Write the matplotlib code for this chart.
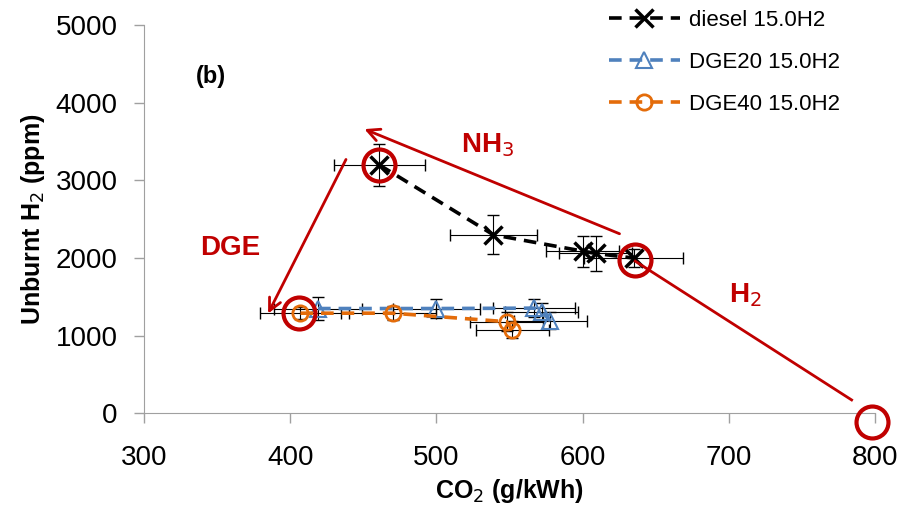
import matplotlib.pyplot as plt

plt.rcParams['font.family'] = ['Liberation Sans', 'DejaVu Sans']

# diesel 15.0H2
diesel_co2 = [461, 539, 600, 609, 635]
diesel_h2 = [3200, 2300, 2090, 2060, 2000]
diesel_xerr = [31, 30, 25, 25, 34]
diesel_yerr = [270, 250, 200, 230, 120]

# DGE20 15.0H2
dge20_co2 = [419, 500, 567, 572, 578]
dge20_h2 = [1350, 1350, 1355, 1310, 1190]
dge20_xerr = [30, 30, 28, 25, 25]
dge20_yerr = [150, 120, 120, 110, 110]

# DGE40 15.0H2
dge40_co2 = [407, 470, 548, 552]
dge40_h2 = [1290, 1290, 1180, 1075]
dge40_xerr = [28, 30, 25, 25]
dge40_yerr = [80, 90, 120, 110]

red = '#C00000'

# highlighted points (red circles)
circle_co2 = [461, 406, 636, 798]
circle_h2 = [3200, 1290, 1980, -110]

fig = plt.figure(figsize=(9.03, 5.24), dpi=100)
ax = fig.add_axes([0.1595, 0.2113, 0.8095, 0.7404])

ax.errorbar(diesel_co2, diesel_h2, xerr=diesel_xerr, yerr=diesel_yerr, fmt='none',
            ecolor='black', elinewidth=0.8, capsize=4, zorder=2)
ax.errorbar(dge20_co2, dge20_h2, xerr=dge20_xerr, yerr=dge20_yerr, fmt='none',
            ecolor='black', elinewidth=0.8, capsize=4, zorder=2)
ax.errorbar(dge40_co2, dge40_h2, xerr=dge40_xerr, yerr=dge40_yerr, fmt='none',
            ecolor='black', elinewidth=0.8, capsize=4, zorder=2)

dash = (0, (3.5, 2.2))
ax.plot(diesel_co2, diesel_h2, color='black', ls=dash, lw=2.6,
        marker='x', ms=13, mew=2.5, label='diesel 15.0H2', zorder=3)
ax.plot(dge20_co2, dge20_h2, color='#4F81BD', ls=dash, lw=2.6,
        marker='^', ms=11, mew=1.5, mfc='none', label='DGE20 15.0H2', zorder=3)
ax.plot(dge40_co2, dge40_h2, color='#E46C0A', ls=dash, lw=2.6,
        marker='o', ms=11, mew=2, mfc='none', label='DGE40 15.0H2', zorder=3)

# red annotation circles and arrows
ax.plot(circle_co2, circle_h2, ls='none', marker='o', ms=23, mfc='none',
        mec=red, mew=3, zorder=5, clip_on=False)
ax.annotate('', xy=(449, 3676), xytext=(627, 2300),
            arrowprops=dict(arrowstyle='->', color=red, lw=2, mutation_scale=22), zorder=6)
ax.annotate('', xy=(384, 1254), xytext=(439, 3303),
            arrowprops=dict(arrowstyle='->', color=red, lw=2, mutation_scale=22), zorder=6)
ax.plot([636, 784], [1960, 172], color=red, lw=2, zorder=6)

ax.text(535, 3460, 'NH$_3$', color=red, fontsize=20, fontweight='bold', ha='center', va='center')
ax.text(359, 2130, 'DGE', color=red, fontsize=20, fontweight='bold', ha='center', va='center')
ax.text(711, 1525, 'H$_2$', color=red, fontsize=20, fontweight='bold', ha='center', va='center')
ax.text(346, 4335, '(b)', color='black', fontsize=17, fontweight='bold', ha='center', va='center')

ax.set_xlim(300, 800)
ax.set_ylim(0, 5000)
ax.set_xticks([300, 400, 500, 600, 700, 800])
ax.set_yticks([0, 1000, 2000, 3000, 4000, 5000])
for s in ['top', 'right']:
    ax.spines[s].set_visible(False)
for s in ['left', 'bottom']:
    ax.spines[s].set_color('#A0A0A0')
ax.tick_params(axis='both', colors='#A0A0A0', labelcolor='black', labelsize=20, length=7, width=1)
ax.tick_params(axis='x', pad=16)
ax.tick_params(axis='y', pad=12)

ax.set_xlabel('CO$_2$ (g/kWh)', fontsize=18, fontweight='bold', labelpad=4)
ax.set_ylabel('Unburnt H$_2$ (ppm)', fontsize=18, fontweight='bold', labelpad=6)

fig.legend(loc='upper left', bbox_to_anchor=(0.652, 1.02), frameon=False, fontsize=16,
           handlelength=3.2, labelspacing=0.95, handletextpad=0.4)

fig.savefig('out.png', dpi=100)
